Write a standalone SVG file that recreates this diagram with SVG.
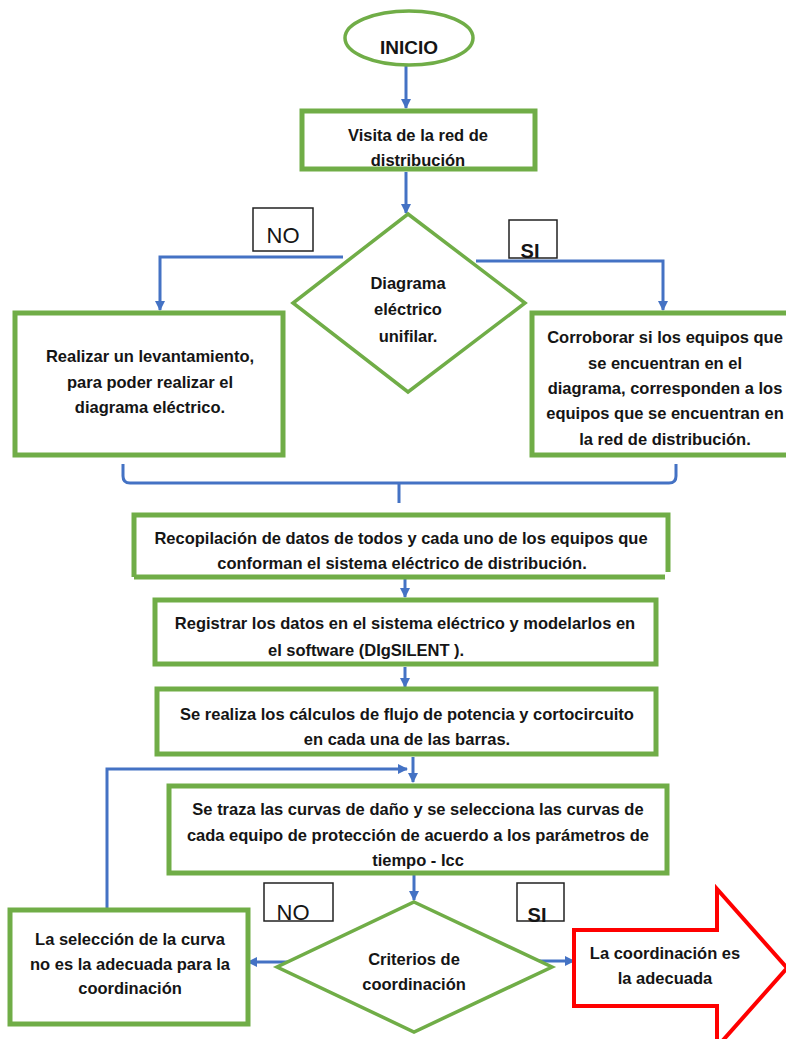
<svg xmlns="http://www.w3.org/2000/svg" width="786" height="1039" viewBox="0 0 786 1039">
<style>
.box{fill:#fff;stroke:#70AD47;stroke-width:5}
.dia{fill:#fff;stroke:#70AD47;stroke-width:3.5}
.lbl{fill:#fff;stroke:#222;stroke-width:1.5}
.con{fill:none;stroke:#4472C4;stroke-width:3}
.t{font-family:"Liberation Sans",Arial,sans-serif;font-weight:bold;font-size:16.5px;fill:#151515;text-anchor:middle}
.no{font-family:"Liberation Sans",Arial,sans-serif;font-size:22px;fill:#151515;text-anchor:middle}
.si{font-family:"Liberation Sans",Arial,sans-serif;font-weight:bold;font-size:20px;fill:#151515;text-anchor:middle}
</style>
<defs>
<marker id="ah" markerUnits="userSpaceOnUse" markerWidth="10" markerHeight="10" refX="9" refY="5" orient="auto">
<path d="M0,0 L10,5 L0,10 z" fill="#4472C4"/>
</marker>
</defs>
<rect width="786" height="1039" fill="#fff"/>
<g id="connectors">
<path class="con" d="M406,66 V108" marker-end="url(#ah)"/>
<path class="con" d="M406,172 V213" marker-end="url(#ah)"/>
<path class="con" d="M343,257 H160 V310" marker-end="url(#ah)"/>
<path class="con" d="M476,261 H663 V310" marker-end="url(#ah)"/>
<path class="con" d="M123,464 V476 Q123,483 130,483 H669 Q676,483 676,476 V464 M399,483 V503"/>
<path class="con" d="M405,578 V597" marker-end="url(#ah)"/>
<path class="con" d="M405,667 V687" marker-end="url(#ah)"/>
<path class="con" d="M413,757 V782" marker-end="url(#ah)"/>
<path class="con" d="M107,908 V769 H407" marker-end="url(#ah)"/>
<path class="con" d="M414,875 V900" marker-end="url(#ah)"/>
<path class="con" d="M291,962 H248" marker-end="url(#ah)"/>
<path class="con" d="M537,961 H574" marker-end="url(#ah)"/>
</g>
<g id="inicio">
<ellipse cx="409" cy="38" rx="64" ry="27" fill="#fff" stroke="#70AD47" stroke-width="3.5"/>
<text class="t" x="409" y="54" style="font-size:19px">INICIO</text>
</g>
<g id="visita">
<rect class="box" x="302" y="111" width="233" height="58"/>
<text class="t" x="418" y="141">Visita de la red de</text>
<text class="t" x="418" y="166">distribución</text>
</g>
<g id="diagrama">
<polygon class="dia" points="408,214 525,303 408,392 293,303"/>
<text class="t" x="408" y="289">Diagrama</text>
<text class="t" x="408" y="315">eléctrico</text>
<text class="t" x="408" y="342">unifilar.</text>
</g>
<g id="label-no-1">
<rect class="lbl" x="253" y="208" width="60" height="43"/>
<text class="no" x="283" y="243">NO</text>
</g>
<g id="label-si-1">
<rect class="lbl" x="509" y="220" width="48" height="38"/>
<text class="si" x="530" y="258">SI</text>
</g>
<g id="levantamiento">
<rect class="box" x="15" y="313" width="268" height="142"/>
<text class="t" x="150" y="362">Realizar un levantamiento,</text>
<text class="t" x="150" y="388">para poder realizar el</text>
<text class="t" x="150" y="413">diagrama eléctrico.</text>
</g>
<g id="corroborar">
<rect class="box" x="532" y="313" width="260" height="142"/>
<text class="t" x="665" y="343">Corroborar si los equipos que</text>
<text class="t" x="665" y="369">se encuentran en el</text>
<text class="t" x="665" y="394">diagrama, corresponden a los</text>
<text class="t" x="665" y="419">equipos que se encuentran en</text>
<text class="t" x="665" y="445">la red de distribución.</text>
</g>
<g id="recopilacion">
<path d="M134,577 V515 H668 V572 M134,577 H665" fill="#fff" stroke="#70AD47" stroke-width="5"/>
<text class="t" x="401" y="544">Recopilación de datos de todos y cada uno de los equipos que</text>
<text class="t" x="402" y="569">conforman el sistema eléctrico de distribución.</text>
</g>
<g id="registrar">
<rect class="box" x="155" y="600" width="501" height="64"/>
<text class="t" x="405" y="629">Registrar los datos en el sistema eléctrico y modelarlos en</text>
<text class="t" x="268" y="656" style="text-anchor:start">el software (DIgSILENT ).</text>
</g>
<g id="calculos">
<rect class="box" x="157" y="689" width="499" height="65"/>
<text class="t" x="407" y="720">Se realiza los cálculos de flujo de potencia y cortocircuito</text>
<text class="t" x="407" y="745">en cada una de las barras.</text>
</g>
<g id="curvas">
<rect class="box" x="169" y="786" width="498" height="87"/>
<text class="t" x="418" y="815">Se traza las curvas de daño y se selecciona las curvas de</text>
<text class="t" x="418" y="841">cada equipo de protección de acuerdo a los parámetros de</text>
<text class="t" x="418" y="866">tiempo - Icc</text>
</g>
<g id="label-no-2">
<rect class="lbl" x="264" y="883" width="69" height="38"/>
<text class="no" x="293" y="920">NO</text>
</g>
<g id="label-si-2">
<rect class="lbl" x="517" y="883" width="47" height="38"/>
<text class="si" x="537" y="922">SI</text>
</g>
<g id="criterios">
<polygon class="dia" points="414,902 552,967 414,1032 277,967"/>
<text class="t" x="414" y="965">Criterios de</text>
<text class="t" x="414" y="990">coordinación</text>
</g>
<g id="seleccion">
<rect class="box" x="10" y="910" width="238" height="114"/>
<text class="t" x="130" y="945">La selección de la curva</text>
<text class="t" x="130" y="970">no es la adecuada para la</text>
<text class="t" x="130" y="994">coordinación</text>
</g>
<g id="adecuada">
<polygon points="574,930 717,930 717,889 787,968 717,1047 717,1006 574,1006" fill="#fff" stroke="#FF0000" stroke-width="4"/>
<text class="t" x="665" y="959">La coordinación es</text>
<text class="t" x="665" y="984">la adecuada</text>
</g>
</svg>
